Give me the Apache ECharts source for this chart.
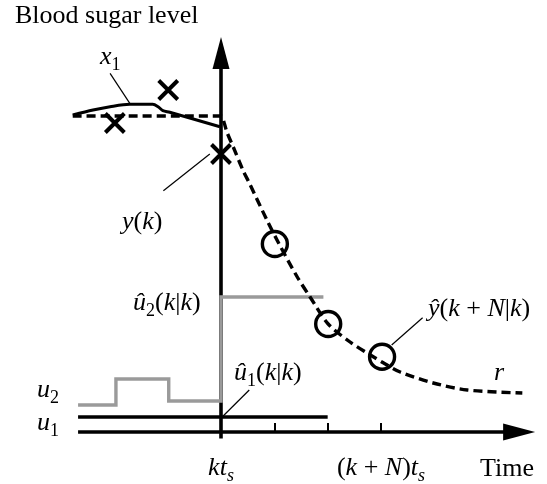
<!DOCTYPE html>
<html><head><meta charset="utf-8">
<script src="https://cdn.jsdelivr.net/npm/echarts@6/dist/echarts.min.js"></script>
<style>html,body{margin:0;padding:0;background:#fff}#c{width:547px;height:484px}</style>
</head><body><div id="c"></div>
<script>
// x: time in sampling periods relative to the current instant (k t_s = 0)
// y: blood sugar level, arbitrary units
const refX = [-2.78, 0, 0.06, 0.11, 0.23, 0.41, 0.54, 0.86, 1.09, 1.43, 1.67, 2.01, 2.42, 2.74, 3.08, 3.36, 3.98, 4.62, 5.65];
const refY = [31.6, 31.6, 30.9, 30.0, 28.5, 26.2, 24.8, 21.2, 18.8, 15.5, 13.5, 10.8, 9.0, 7.9, 6.8, 6.0, 4.9, 4.2, 3.9];
const x1X = [-2.78, -2.40, -2.08, -1.71, -1.28, -1.18, -1.09, -0.96, -0.02];
const x1Y = [31.7, 32.2, 32.53, 32.77, 32.77, 32.53, 32.13, 31.97, 30.53];
const measX = [-1.99, -0.99, 0];
const measY = [30.9, 34.2, 27.8];
const predX = [1.01, 2.01, 3.02];
const predY = [18.8, 10.8, 7.53];
const u1X = [-2.68, 2.0];
const u1Y = [1.5, 1.5];
const u2X = [-2.68, -1.97, -1.97, -0.98, -0.98, 0, 0, 1.92];
const u2Y = [2.7, 2.7, 5.3, 5.3, 3.1, 3.1, 13.5, 13.5];
const timeAxis = [-2.68, 0, 5.89, 0];     // start x, y, arrow tip x, y
const levelAxis = [0, -0.65, 0, 39.5];    // start x, y, arrow tip x, y
const tickValues = [1, 2, 3];
const tickLabelValues = [0, 3];
const tickLabels = ['{i|kt}{si|s}', '{n|(}{i|k}{n| + }{i|N}{n|)}{i|t}{si|s}'];
// leader lines: [from x, from y, to x, to y]
const leaderX1 = [-2.08, 35.87, -1.71, 32.87];
const leaderY = [-1.08, 24.13, -0.21, 27.8];
const leaderU1 = [0.53, 4.2, 0.04, 1.6];
const leaderYhat = [3.78, 11.43, 3.2, 8.7];

const SERIF = '"Liberation Serif", "Times New Roman", serif';
const RICH = {
  i: {fontFamily: SERIF, fontStyle: 'italic', fontSize: 26, lineHeight: 30, color: '#000'},
  n: {fontFamily: SERIF, fontSize: 26, lineHeight: 30, color: '#000'},
  si: {fontFamily: SERIF, fontStyle: 'italic', fontSize: 18, lineHeight: 30, padding: [16, 0, 0, 0], color: '#000'},
  sn: {fontFamily: SERIF, fontSize: 18, lineHeight: 30, padding: [16, 0, 0, 0], color: '#000'}
};
const annotations = [
  {t: '{n|Blood sugar level}', x: 15, y: 16},
  {t: '{i|x}{sn|1}', x: 100, y: 57},
  {t: '{i|y}{n|(}{i|k}{n|)}', x: 122, y: 222},
  {t: '{i|û}{sn|2}{n|(}{i|k}{n||}{i|k}{n|)}', x: 133, y: 303},
  {t: '{i|û}{sn|1}{n|(}{i|k}{n||}{i|k}{n|)}', x: 234, y: 373},
  {t: '{i|ŷ}{n|(}{i|k}{n| + }{i|N}{n||}{i|k}{n|)}', x: 428, y: 309},
  {t: '{i|r}', x: 494, y: 373},
  {t: '{i|u}{sn|2}', x: 37, y: 390},
  {t: '{i|u}{sn|1}', x: 37, y: 423},
  {t: '{n|Time}', x: 480, y: 469}
];

const zip = (xs, ys) => xs.map((x, i) => [x, ys[i]]);
const seg = a => [[a[0], a[1]], [a[2], a[3]]];

const chart = echarts.init(document.getElementById('c'), null, {renderer: 'canvas'});

function arrowItem(params, api) {
  const p0 = api.coord([api.value(0), api.value(1)]);
  const p1 = api.coord([api.value(2), api.value(3)]);
  const dx = p1[0] - p0[0], dy = p1[1] - p0[1];
  const len = Math.hypot(dx, dy), ux = dx / len, uy = dy / len;
  const L = 32, W = 8.5;
  const b = [p1[0] - ux * L, p1[1] - uy * L];
  return {type: 'group', children: [
    {type: 'line', shape: {x1: p0[0], y1: p0[1], x2: b[0] + ux * 3, y2: b[1] + uy * 3},
      style: {stroke: '#000', lineWidth: 3.6}},
    {type: 'polygon', shape: {points: [p1, [b[0] - uy * W, b[1] + ux * W], [b[0] + uy * W, b[1] - ux * W]]},
      style: {fill: '#000'}}
  ]};
}

const lineS = (data, style, extra) => Object.assign({
  type: 'line', data: data, symbol: 'none', clip: false, silent: true,
  lineStyle: Object.assign({color: '#000', width: 3, join: 'miter', cap: 'butt'}, style)
}, extra || {});

chart.setOption({
  animation: false,
  grid: {left: 61, right: 6, top: 32, bottom: 2, containLabel: false, outerBoundsMode: 'none'},
  xAxis: {
    type: 'value', min: -3, max: 6,
    axisLine: {show: false, onZero: true},
    axisTick: {show: true, inside: true, length: 9, customValues: tickValues, lineStyle: {color: '#000', width: 2}},
    axisLabel: {show: false},
    splitLine: {show: false}
  },
  yAxis: {type: 'value', min: -5, max: 40, show: false},
  series: [
    {type: 'custom', renderItem: arrowItem, clip: false, silent: true,
      encode: {x: [0, 2], y: [1, 3]}, data: [timeAxis, levelAxis]},
    lineS(zip(u1X, u1Y), {width: 3.6}),
    lineS(zip(u2X, u2Y), {color: '#9a9a9a', width: 3.4}),
    lineS(zip(refX, refY), {width: 3.4, type: [9, 5]}, {smooth: 0.3}),
    lineS(zip(x1X, x1Y), {width: 3}, {smooth: 0.3}),
    lineS(seg(leaderX1), {width: 1.2}),
    lineS(seg(leaderY), {width: 1.2}),
    lineS(seg(leaderU1), {width: 1.2}),
    lineS(seg(leaderYhat), {width: 1.2}),
    {type: 'scatter', data: zip(measX, measY), symbol: 'path://M0,0L1,1M1,0L0,1', symbolSize: 19,
      clip: false, silent: true, itemStyle: {color: '#000', borderColor: '#000', borderWidth: 4, opacity: 1}},
    {type: 'scatter', data: zip(predX, predY), symbol: 'circle', symbolSize: 25,
      clip: false, silent: true, itemStyle: {color: 'rgba(0,0,0,0)', borderColor: '#000', borderWidth: 3.4, opacity: 1}}
  ]
});

// text: annotations plus tick labels placed through the x axis scale
const tickTexts = tickLabelValues.map((v, i) => {
  const p = chart.convertToPixel({gridIndex: 0}, [v, 0]);
  return {type: 'text', x: p[0], y: p[1] + 36, silent: true,
    style: {text: tickLabels[i], rich: RICH, align: 'center', verticalAlign: 'middle', textAlign: 'center', textVerticalAlign: 'middle'}};
});
chart.setOption({
  graphic: annotations.map(a => ({
    type: 'text', x: a.x, y: a.y, silent: true,
    style: {text: a.t, rich: RICH, align: 'left', verticalAlign: 'middle', textAlign: 'left', textVerticalAlign: 'middle'}
  })).concat(tickTexts)
});
</script></body></html>
